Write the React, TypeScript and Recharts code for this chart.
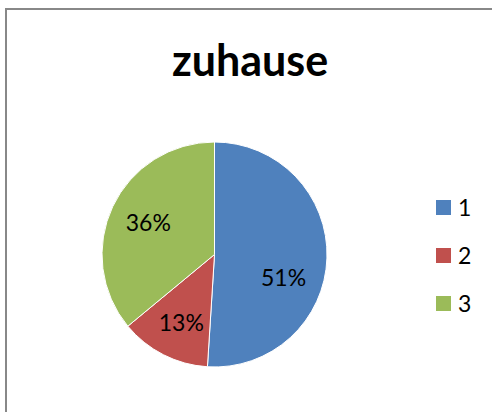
import React from 'react';
import { PieChart, Pie, Cell, Legend } from 'recharts';

const categories = ['1', '2', '3'];
const shares = [51, 13, 36];
const colors = ['#4F81BD', '#C0504D', '#9BBB59'];

const data = categories.map((name, i) => ({ name, value: shares[i] }));

// Excel "best fit" nudges the big slice's label downward a bit
const labelNudgeY = [20, 2, -1];

const RAD = Math.PI / 180;
const FONT = 'Lato, "Open Sans", sans-serif';

const renderLabel = (props: any) => {
  const { cx, cy, midAngle, outerRadius, percent, index } = props;
  const r = outerRadius * 0.65;
  const x = cx + r * Math.cos(-midAngle * RAD);
  const y = cy + r * Math.sin(-midAngle * RAD) + (labelNudgeY[index] || 0);
  return (
    <text
      x={x - (index === 0 ? 4 : 0)}
      y={y}
      fill="#000"
      textAnchor="middle"
      dominantBaseline="central"
      fontSize={23}
      fontFamily={FONT}
    >
      {`${Math.round(percent * 100)}%`}
    </text>
  );
};

const renderLegend = () => (
  <div style={{ fontFamily: FONT, fontSize: 23, color: '#000' }}>
    {categories.map((c, i) => (
      <div key={c} style={{ display: 'flex', alignItems: 'center', height: 48 }}>
        <span
          style={{
            display: 'inline-block',
            width: 15,
            height: 15,
            background: colors[i],
            marginRight: 7,
          }}
        />
        <span>{c}</span>
      </div>
    ))}
  </div>
);

export default function App() {
  return (
    <div style={{ position: 'absolute', left: 0, top: 0, width: 492, height: 412, overflow: 'hidden', background: '#fff' }}>
      <div
        style={{
          position: 'absolute',
          left: 5,
          top: 8,
          width: 520,
          height: 440,
          border: '2px solid #888',
          boxSizing: 'border-box',
        }}
      />
      <div
        style={{
          position: 'absolute',
          left: 0,
          top: 35,
          width: 500,
          textAlign: 'center',
          fontFamily: FONT,
          fontWeight: 700,
          fontSize: 43,
          lineHeight: '50px',
        }}
      >
        zuhause
      </div>
      <div style={{ position: 'absolute', left: 0, top: 0 }}>
        <PieChart width={492} height={412} margin={{ top: 0, right: 0, bottom: 0, left: 0 }}>
          <Pie
            data={data}
            dataKey="value"
            nameKey="name"
            cx={214.5}
            cy={254.5}
            outerRadius={112.5}
            startAngle={90}
            endAngle={-270}
            stroke="#fff"
            strokeWidth={1}
            label={renderLabel}
            labelLine={false}
            isAnimationActive={false}
          >
            {data.map((_, i) => (
              <Cell key={`cell-${i}`} fill={colors[i]} />
            ))}
          </Pie>
          <Legend
            layout="vertical"
            align="right"
            verticalAlign="middle"
            content={renderLegend}
            wrapperStyle={{ position: 'absolute', left: 436, top: 183, width: 50 }}
          />
        </PieChart>
      </div>
    </div>
  );
}
